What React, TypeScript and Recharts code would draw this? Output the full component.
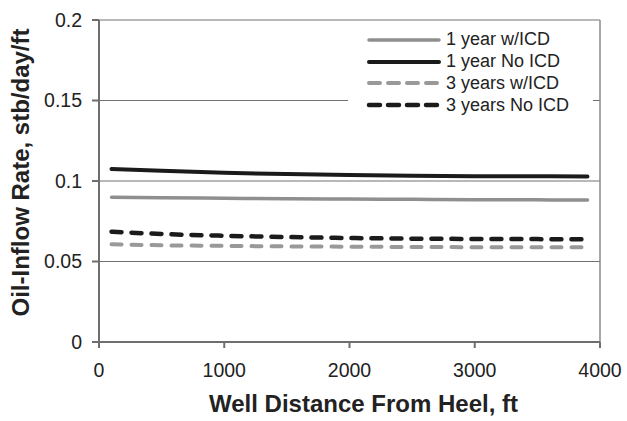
import React from 'react';
import { LineChart, Line, XAxis, YAxis, CartesianGrid, ReferenceLine, Label } from 'recharts';

// distance along the well, ft
const distances = [100, 500, 1000, 1500, 2000, 2500, 3000, 3500, 3900];

// oil-inflow rate, stb/day/ft
const oneYearIcd = [0.0899, 0.0896, 0.0893, 0.089, 0.0888, 0.0886, 0.0884, 0.0883, 0.0882];
const oneYearNoIcd = [0.1075, 0.1063, 0.1051, 0.1043, 0.1037, 0.1033, 0.103, 0.1029, 0.1028];
const threeYearsIcd = [0.0607, 0.0601, 0.0597, 0.0594, 0.0592, 0.059, 0.0589, 0.0588, 0.0588];
const threeYearsNoIcd = [0.0685, 0.0671, 0.066, 0.0652, 0.0646, 0.0642, 0.064, 0.0639, 0.0638];

const xTicks = [0, 1000, 2000, 3000, 4000];
const yTicks = [0, 0.05, 0.1, 0.15, 0.2];

const data = distances.map((d, i) => ({
  distance: d,
  oneYearIcd: oneYearIcd[i],
  oneYearNoIcd: oneYearNoIcd[i],
  threeYearsIcd: threeYearsIcd[i],
  threeYearsNoIcd: threeYearsNoIcd[i],
}));

const FONT = '"Liberation Sans", Arial, sans-serif';

const series = [
  { key: 'oneYearIcd', name: '1 year w/ICD', color: '#8f8f8f', width: 3.5, dash: undefined },
  { key: 'oneYearNoIcd', name: '1 year No ICD', color: '#1b1b1b', width: 4, dash: undefined },
  { key: 'threeYearsIcd', name: '3 years w/ICD', color: '#999999', width: 4, dash: '10 10' },
  { key: 'threeYearsNoIcd', name: '3 years No ICD', color: '#1b1b1b', width: 4.5, dash: '10 10' },
];

// legend sits inside the plot on a white box, covering the grid line behind it
function LegendBox() {
  return (
    <div
      style={{
        position: 'absolute',
        left: 348,
        top: 29,
        width: 245,
        boxSizing: 'border-box',
        background: 'white',
        padding: '0 0 12px 18px',
        fontFamily: FONT,
      }}
    >
      {series.map((s) => (
        <div key={s.key} style={{ display: 'flex', alignItems: 'center', height: 21.8 }}>
          <svg width={76} height={10} style={{ marginRight: 4 }}>
            <line
              x1={3}
              x2={73}
              y1={5}
              y2={5}
              stroke={s.color}
              strokeWidth={s.width}
              strokeDasharray={s.dash ? '11 8' : undefined}
              strokeLinecap="round"
            />
          </svg>
          <span style={{ fontSize: 18, color: '#222' }}>{s.name}</span>
        </div>
      ))}
    </div>
  );
}

function YTitle(props: any) {
  const vb = props.viewBox;
  const x = vb.x + 24;
  const y = vb.y + vb.height / 2 - 8.5;
  return (
    <text
      x={x}
      y={y}
      transform={`rotate(-90 ${x} ${y})`}
      textAnchor="middle"
      fontFamily={FONT}
      fontWeight="bold"
      fontSize={24}
      fill="#222"
    >
      Oil-Inflow Rate, stb/day/ft
    </text>
  );
}

export default function App() {
  return (
    <div style={{ position: 'absolute', left: 0, top: 0, width: 627, height: 421, background: 'white' }}>
      <LineChart width={627} height={421} data={data} margin={{ top: 20, right: 27, bottom: 9, left: 5 }}>
        <CartesianGrid vertical={false} stroke="#727272" strokeWidth={1.2} />
        <ReferenceLine x={4000} stroke="#8a8a8a" strokeWidth={1.5} />
        <XAxis
          dataKey="distance"
          type="number"
          domain={[0, 4000]}
          ticks={xTicks}
          height={70}
          stroke="#6e6e6e"
          strokeWidth={2}
          tickSize={6}
          tickMargin={15}
          tick={{ fontSize: 19.5, fill: '#222', fontFamily: FONT }}
        >
          <Label
            value="Well Distance From Heel, ft"
            position="insideBottom"
            offset={0}
            dx={14}
            style={{ fontSize: 24, fontWeight: 'bold', fill: '#222', fontFamily: FONT }}
          />
        </XAxis>
        <YAxis
          type="number"
          domain={[0, 0.2]}
          ticks={yTicks}
          width={94}
          stroke="#6e6e6e"
          strokeWidth={2}
          tickSize={7}
          tickMargin={10}
          tick={{ fontSize: 19.5, fill: '#222', fontFamily: FONT }}
        >
          <Label content={YTitle} />
        </YAxis>
        {series.map((s) => (
          <Line
            key={s.key}
            type="monotone"
            dataKey={s.key}
            name={s.name}
            stroke={s.color}
            strokeWidth={s.width}
            strokeDasharray={s.dash}
            strokeLinecap="round"
            dot={false}
            isAnimationActive={false}
          />
        ))}
      </LineChart>
      <LegendBox />
    </div>
  );
}
